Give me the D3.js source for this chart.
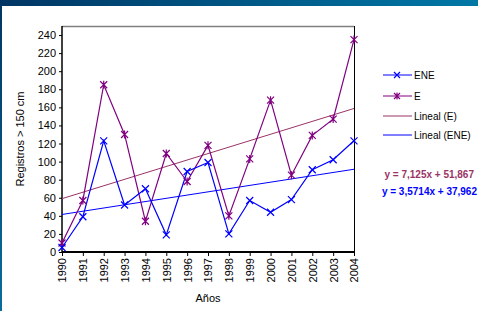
<!DOCTYPE html>
<html><head><meta charset="utf-8">
<script src="https://cdn.jsdelivr.net/npm/d3@7/dist/d3.min.js"></script>
<style>body{margin:0;background:#fff;}svg{display:block;font-family:"Liberation Sans",Arial,sans-serif;}</style>
</head><body><svg id="c" width="478" height="311"></svg>
<script>
const years = [1990,1991,1992,1993,1994,1995,1996,1997,1998,1999,2000,2001,2002,2003,2004];
const eneValues = [5,39,123,52,70,19,89,99,20,57,44,58,91,102,123];
const eValues = [10,57,185,130,34,109,78,118,40,103,168,85,129,147,235];
const yTicks = [0,20,40,60,80,100,120,140,160,180,200,220,240];
const trendE = {slope:7.125, intercept:51.867, label:"y = 7,125x + 51,867"};
const trendENE = {slope:3.5714, intercept:37.962, label:"y = 3,5714x + 37,962"};
const legendLabels = ["ENE","E","Lineal (E)","Lineal (ENE)"];

const svg = d3.select("#c");
const defs = svg.append("defs");
const g1 = defs.append("linearGradient").attr("id","topg").attr("x1","0").attr("x2","1");
g1.append("stop").attr("offset","0").attr("stop-color","#003563");
g1.append("stop").attr("offset","1").attr("stop-color","#0078a6");
const g2 = defs.append("linearGradient").attr("id","leftg").attr("x1","0").attr("x2","0").attr("y1","0").attr("y2","1");
g2.append("stop").attr("offset","0").attr("stop-color","#003563");
g2.append("stop").attr("offset","1").attr("stop-color","#0a6d9c");
svg.append("rect").attr("x",0).attr("y",0).attr("width",478).attr("height",6).attr("fill","url(#topg)");
svg.append("rect").attr("x",0).attr("y",0).attr("width",2).attr("height",311).attr("fill","url(#leftg)");

const L=62,R=354,T=26,B=252;
const x = d3.scalePoint().domain(years).range([L,R]);
const y = d3.scaleLinear().domain([0,250]).range([B,T]);

// frame
svg.append("line").attr("x1",L).attr("x2",R).attr("y1",T+0.5).attr("y2",T+0.5).attr("stroke","#808080").attr("stroke-width",1.5);
svg.append("line").attr("x1",R+0.5).attr("x2",R+0.5).attr("y1",T).attr("y2",B).attr("stroke","#000");

// y axis
const ya = svg.append("g").attr("transform",`translate(${L},0)`)
  .call(d3.axisLeft(y).tickValues(yTicks).tickSize(3).tickPadding(3).tickFormat(d3.format("d")));
ya.select(".domain").attr("stroke","#000").attr("stroke-width",1.5).attr("d",`M0,${T}V${B+1}`);
ya.selectAll("text").attr("font-size","11px").attr("fill","#000").attr("font-family","Liberation Sans, Arial, sans-serif");

// x axis
const xa = svg.append("g").attr("transform",`translate(0,${B})`)
  .call(d3.axisBottom(x).tickSize(4).tickSizeOuter(0).tickFormat(d3.format("d")));
xa.select(".domain").attr("stroke","#000").attr("stroke-width",2).attr("d",`M${L},0H${R+1}`);
xa.selectAll("text").attr("font-size","11px").attr("fill","#000").attr("font-family","Liberation Sans, Arial, sans-serif")
  .attr("transform","rotate(-90)").attr("text-anchor","end").attr("dy","0.35em").attr("x",-6).attr("y",0);

// axis titles
svg.append("text").attr("transform",`translate(24,${(T+B)/2}) rotate(-90)`).attr("text-anchor","middle")
  .attr("font-size","11px").text("Registros > 150 cm");
svg.append("text").attr("x",(L+R)/2).attr("y",302).attr("text-anchor","middle").attr("font-size","11px").text("Años");

// trend lines
function trendLine(t,color){
  svg.append("line").attr("x1",x(years[0])).attr("x2",x(years[years.length-1]))
    .attr("y1",y(t.slope*1+t.intercept)).attr("y2",y(t.slope*years.length+t.intercept))
    .attr("stroke",color).attr("stroke-width",1);
}
trendLine(trendE,"#993366");
trendLine(trendENE,"#0000ff");

const line = d3.line().x((d,i)=>x(years[i])).y(d=>y(d));
function crossPath(s){return `M${-s},${-s}L${s},${s}M${-s},${s}L${s},${-s}`;}
function starPath(s){return crossPath(s)+`M0,${-s-0.5}L0,${s+0.5}`;}

svg.append("path").datum(eValues).attr("d",line).attr("fill","none").attr("stroke","#800080").attr("stroke-width",1.2);
svg.append("path").datum(eneValues).attr("d",line).attr("fill","none").attr("stroke","#0000ff").attr("stroke-width",1.2);
svg.selectAll(".me").data(eValues).enter().append("path")
  .attr("transform",(d,i)=>`translate(${x(years[i])},${y(d)})`).attr("d",starPath(3.5))
  .attr("stroke","#800080").attr("stroke-width",1.2).attr("fill","none");
svg.selectAll(".mn").data(eneValues).enter().append("path")
  .attr("transform",(d,i)=>`translate(${x(years[i])},${y(d)})`).attr("d",crossPath(3.5))
  .attr("stroke","#0000ff").attr("stroke-width",1.2).attr("fill","none");

// legend
const legColors = ["#0000ff","#800080","#993366","#0000ff"];
const legY = [75,96,116,135];
legendLabels.forEach((lab,i)=>{
  const gy = legY[i];
  svg.append("line").attr("x1",383).attr("x2",412).attr("y1",gy).attr("y2",gy).attr("stroke",legColors[i]).attr("stroke-width",1);
  if(i===0) svg.append("path").attr("transform",`translate(397,${gy})`).attr("d",crossPath(3)).attr("stroke",legColors[i]).attr("stroke-width",1.2);
  if(i===1) svg.append("path").attr("transform",`translate(397,${gy})`).attr("d",starPath(3)).attr("stroke",legColors[i]).attr("stroke-width",1.2);
  svg.append("text").attr("x",414).attr("y",gy).attr("dy","0.35em").attr("font-size","10px").attr("fill","#000").text(lab);
});

// equations
svg.append("text").attr("x",474).attr("y",174).attr("dy","0.35em").attr("text-anchor","end")
  .attr("font-size","10px").attr("font-weight","bold").attr("fill","#993366").text(trendE.label);
svg.append("text").attr("x",477).attr("y",191).attr("dy","0.35em").attr("text-anchor","end")
  .attr("font-size","10px").attr("font-weight","bold").attr("fill","#0000ff").text(trendENE.label);
</script></body></html>
